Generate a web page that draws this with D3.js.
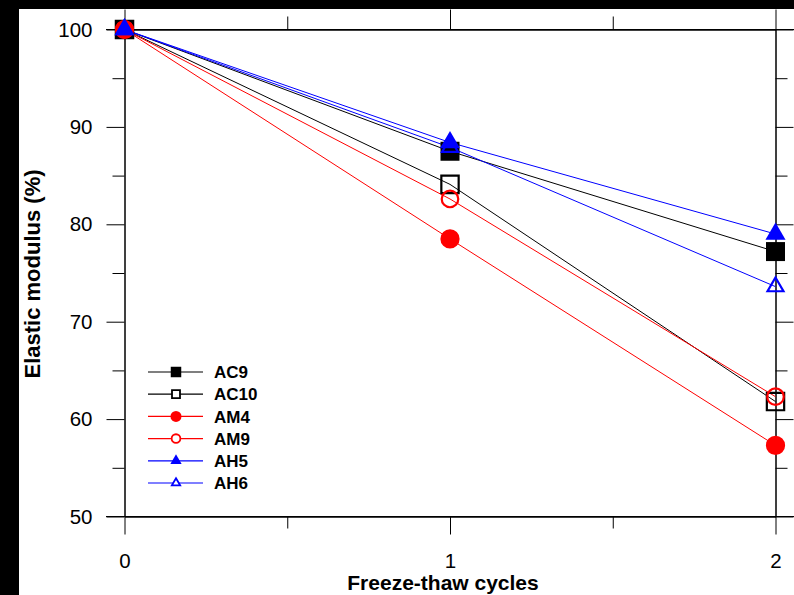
<!DOCTYPE html>
<html>
<head>
<meta charset="utf-8">
<script src="https://cdn.jsdelivr.net/npm/d3@7"></script>
<style>
  html, body { margin: 0; padding: 0; background: #000; }
  svg { display: block; }
  text { font-family: "Liberation Sans", Arial, sans-serif; }
</style>
</head>
<body>
<svg id="chart" width="794" height="595"></svg>
<script>
// Freeze-thaw cycles on x
const cycles = [0, 1, 2];
const seriesNames = ["AC9", "AC10", "AM4", "AM9", "AH5", "AH6"];
const ac9 = [100, 87.5, 77.2];
const ac10 = [100, 84.1, 61.8];
const am4 = [100, 78.5, 57.3];
const am9 = [100, 82.6, 62.3];
const ah5 = [100, 88.4, 79.0];
const ah6 = [100, 87.9, 73.6];
const yTicks = [50, 60, 70, 80, 90, 100];
const yMinor = [55, 65, 75, 85, 95];
const xTicks = [0, 1, 2];
const xMinor = [0.5, 1.5];

var svg = d3.select("#chart");

// white page, black strip on left and top
svg.append("rect").attr("x", 0).attr("y", 0).attr("width", 794).attr("height", 595).attr("fill", "#000");
svg.append("rect").attr("x", 19).attr("y", 9).attr("width", 775).attr("height", 586).attr("fill", "#fff");

var xScale = d3.scaleLinear().domain([0, 2]).range([124.5, 775.5]);
var yScale = d3.scaleLinear().domain([50, 100]).range([516.5, 29.5]);

// Axes (major + minor ticks, ticks point outward)
function styleAxis(g) {
    g.selectAll("path, line").attr("stroke", "#000").attr("stroke-width", 1);
    g.selectAll("text").attr("fill", "#000").style("font-size", "20.5px").style("font-family", "Liberation Sans, Arial, sans-serif");
}

svg.append("g").attr("transform", "translate(124.5,0)")
    .call(d3.axisLeft(yScale).tickValues(yTicks).tickSize(18).tickSizeOuter(0).tickPadding(14))
    .call(styleAxis);
svg.append("g").attr("transform", "translate(124.5,0)")
    .call(d3.axisLeft(yScale).tickValues(yMinor).tickSize(12).tickSizeOuter(0).tickFormat(""))
    .call(styleAxis);
svg.append("g").attr("transform", "translate(775.5,0)")
    .call(d3.axisRight(yScale).tickValues(yTicks).tickSize(18).tickSizeOuter(0).tickFormat(""))
    .call(styleAxis);
svg.append("g").attr("transform", "translate(775.5,0)")
    .call(d3.axisRight(yScale).tickValues(yMinor).tickSize(12).tickSizeOuter(0).tickFormat(""))
    .call(styleAxis);

svg.append("g").attr("transform", "translate(0,516.5)")
    .call(d3.axisBottom(xScale).tickValues(xTicks).tickSize(18).tickSizeOuter(0).tickPadding(19).tickFormat(d3.format("d")))
    .call(styleAxis);
svg.append("g").attr("transform", "translate(0,516.5)")
    .call(d3.axisBottom(xScale).tickValues(xMinor).tickSize(12).tickSizeOuter(0).tickFormat(""))
    .call(styleAxis);
svg.append("g").attr("transform", "translate(0,29.5)")
    .call(d3.axisTop(xScale).tickValues(xTicks).tickSize(20).tickSizeOuter(0).tickFormat(""))
    .call(styleAxis);
svg.append("g").attr("transform", "translate(0,29.5)")
    .call(d3.axisTop(xScale).tickValues(xMinor).tickSize(13).tickSizeOuter(0).tickFormat(""))
    .call(styleAxis);

// extend frame lines past the plot like the original
svg.append("line").attr("x1", 106).attr("x2", 794).attr("y1", 29.5).attr("y2", 29.5).attr("stroke", "#000");
svg.append("line").attr("x1", 106).attr("x2", 794).attr("y1", 516.5).attr("y2", 516.5).attr("stroke", "#000");

// series styles
const styles = {
    AC9:  { color: "#000", shape: d3.symbolSquare,   fill: true,  size: 361, legSize: 110 },
    AC10: { color: "#000", shape: d3.symbolSquare,   fill: false, size: 300, legSize: 64 },
    AM4:  { color: "#ff0000", shape: d3.symbolCircle, fill: true,  size: 290, legSize: 95 },
    AM9:  { color: "#ff0000", shape: d3.symbolCircle, fill: false, size: 215, legSize: 60 },
    AH5:  { color: "#0000ff", shape: d3.symbolTriangle, fill: true,  size: 175, legSize: 55 },
    AH6:  { color: "#0000ff", shape: d3.symbolTriangle, fill: false, size: 110, legSize: 30 }
};
const seriesData = { AC9: ac9, AC10: ac10, AM4: am4, AM9: am9, AH5: ah5, AH6: ah6 };

var valueline = d3.line()
    .x(function (d, i) { return xScale(cycles[i]); })
    .y(function (d) { return yScale(d); });

seriesNames.forEach(function (name) {
    svg.append("path")
        .data([seriesData[name]])
        .attr("d", valueline)
        .attr("fill", "none")
        .attr("stroke", styles[name].color)
        .attr("stroke-width", 1);
});

seriesNames.forEach(function (name) {
    let st = styles[name];
    svg.selectAll(".pt-" + name)
        .data(seriesData[name])
        .enter().append("path")
        .attr("class", "pt-" + name)
        .attr("transform", (d, i) => `translate(${xScale(cycles[i])},${yScale(d)})`)
        .attr("d", d3.symbol().type(st.shape).size(st.size))
        .attr("fill", st.fill ? st.color : "none")
        .attr("stroke", st.fill ? "none" : st.color)
        .attr("stroke-width", st.fill ? 0 : 2.2);
});

// Legend
var legend = svg.append("g");
seriesNames.forEach(function (name, i) {
    let st = styles[name];
    let y = 372 + i * 22.2;
    legend.append("line").attr("x1", 148).attr("x2", 203).attr("y1", y).attr("y2", y)
        .attr("stroke", st.color).attr("stroke-width", 1.2);
    legend.append("path")
        .attr("transform", `translate(176,${y})`)
        .attr("d", d3.symbol().type(st.shape).size(st.legSize))
        .attr("fill", st.fill ? st.color : "#fff")
        .attr("stroke", st.fill ? "none" : st.color)
        .attr("stroke-width", st.fill ? 0 : 1.8);
    legend.append("text").attr("x", 214).attr("y", y).attr("dy", "0.36em")
        .style("font-size", "17px").style("font-weight", "bold")
        .text(name);
});

// X axis label
svg.append("text")
    .attr("text-anchor", "middle")
    .attr("x", 443)
    .attr("y", 590)
    .style("font-size", "21px").style("font-weight", "bold")
    .text("Freeze-thaw cycles");
// Y axis label
svg.append("text")
    .attr("text-anchor", "middle")
    .attr("transform", "rotate(-90)")
    .attr("x", -274)
    .attr("y", 40)
    .style("font-size", "22px").style("font-weight", "bold")
    .text("Elastic modulus (%)");
</script>
</body>
</html>
